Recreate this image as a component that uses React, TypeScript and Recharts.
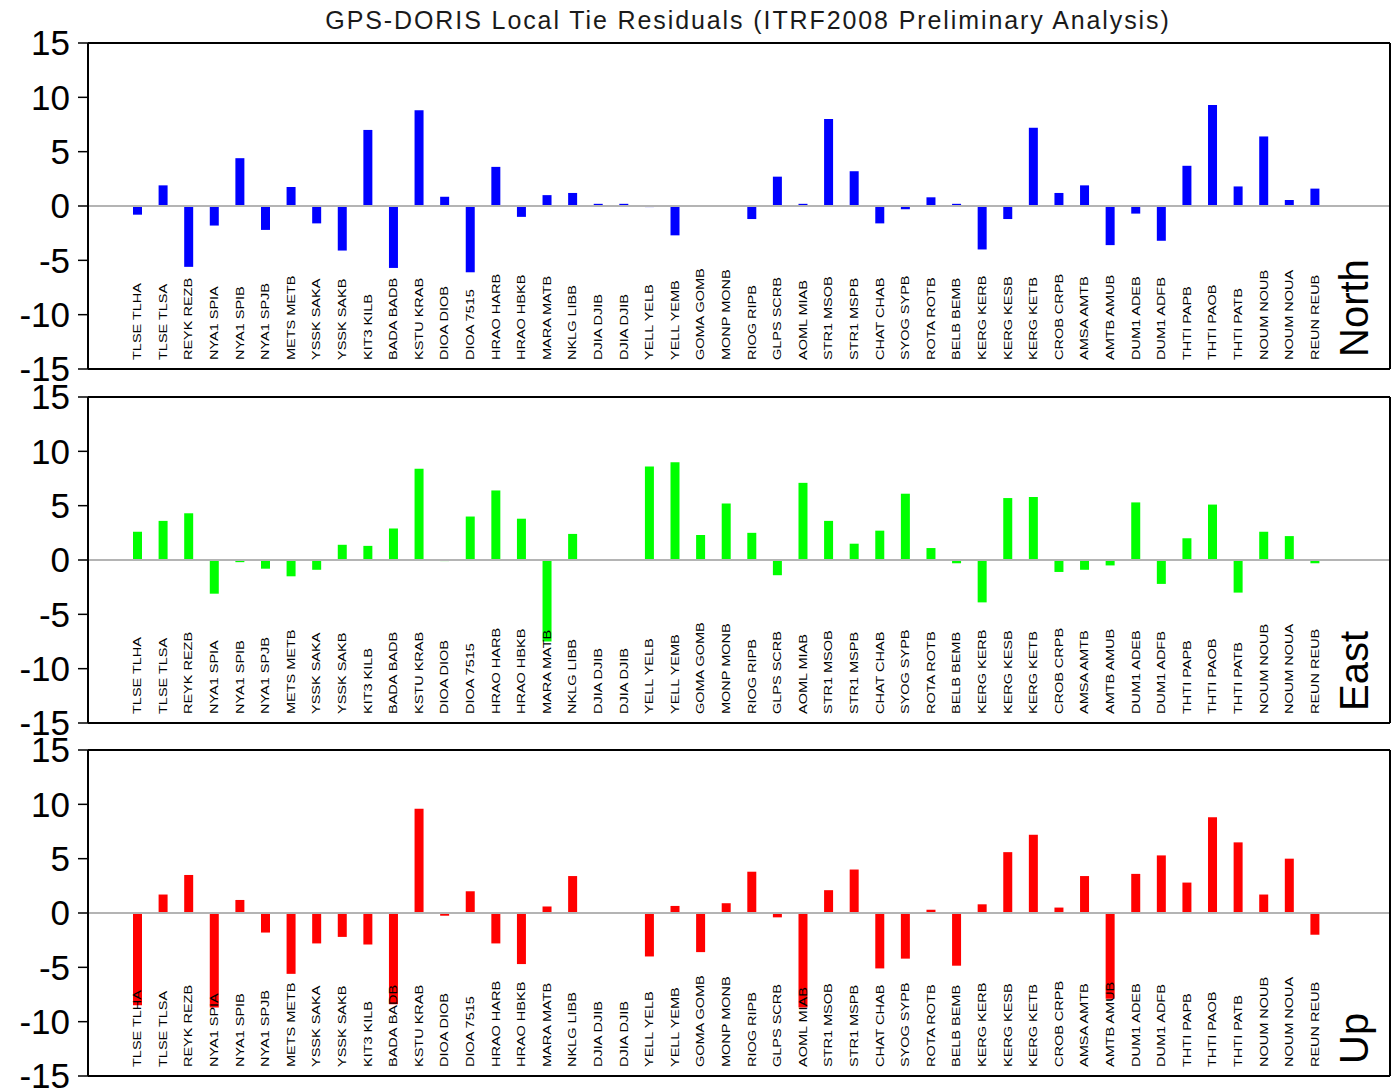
import { Bar, BarChart, Label, ReferenceLine, XAxis, YAxis } from "recharts";

const stations = [
  "TLSE TLHA", "TLSE TLSA", "REYK REZB", "NYA1 SPIA", "NYA1 SPIB", "NYA1 SPJB", "METS METB",
  "YSSK SAKA", "YSSK SAKB", "KIT3 KILB", "BADA BADB", "KSTU KRAB", "DIOA DIOB", "DIOA 7515",
  "HRAO HARB", "HRAO HBKB", "MARA MATB", "NKLG LIBB", "DJIA DJIB", "DJIA DJIB", "YELL YELB",
  "YELL YEMB", "GOMA GOMB", "MONP MONB", "RIOG RIPB", "GLPS SCRB", "AOML MIAB", "STR1 MSOB",
  "STR1 MSPB", "CHAT CHAB", "SYOG SYPB", "ROTA ROTB", "BELB BEMB", "KERG KERB", "KERG KESB",
  "KERG KETB", "CROB CRPB", "AMSA AMTB", "AMTB AMUB", "DUM1 ADEB", "DUM1 ADFB", "THTI PAPB",
  "THTI PAOB", "THTI PATB", "NOUM NOUB", "NOUM NOUA", "REUN REUB",
];

const north = [
  -0.8, 1.9, -5.6, -1.8, 4.4, -2.2, 1.75, -1.6, -4.1, 7.0, -5.7, 8.8, 0.85, -6.1, 3.6, -1.0,
  1.0, 1.2, 0.2, 0.2, -0.1, -2.7, 0, 0.05, -1.2, 2.7, 0.2, 8.0, 3.2, -1.6, -0.3, 0.8, 0.2,
  -4.0, -1.2, 7.2, 1.2, 1.9, -3.6, -0.7, -3.2, 3.7, 9.3, 1.8, 6.4, 0.55, 1.6,
];

const east = [
  2.6, 3.6, 4.3, -3.1, -0.2, -0.8, -1.5, -0.9, 1.4, 1.3, 2.9, 8.4, -0.1, 4.0, 6.4, 3.8, -7.5,
  2.4, 0, -0.05, 8.6, 9.0, 2.3, 5.2, 2.5, -1.4, 7.1, 3.6, 1.5, 2.7, 6.1, 1.1, -0.3, -3.9, 5.7,
  5.8, -1.1, -0.9, -0.5, 5.3, -2.2, 2.0, 5.1, -3.0, 2.6, 2.2, -0.3,
];

const up = [
  -8.5, 1.7, 3.5, -8.7, 1.2, -1.8, -5.6, -2.8, -2.2, -2.9, -8.4, 9.6, -0.25, 2.0, -2.8, -4.7,
  0.6, 3.4, -0.05, 0, -4.0, 0.65, -3.6, 0.9, 3.8, -0.4, -8.7, 2.1, 4.0, -5.1, -4.2, 0.3, -4.85,
  0.8, 5.6, 7.2, 0.5, 3.4, -7.9, 3.6, 5.3, 2.8, 8.8, 6.5, 1.7, 5.0, -2.0,
];

const yTicks = [-15, -10, -5, 0, 5, 10, 15];

const rows = stations.map((s, i) => ({ i, site: s, north: north[i], east: east[i], up: up[i] }));

const FONT = "'Liberation Sans', Arial, Helvetica, sans-serif";
const PLOT_H = 326;

function SiteTick(props: any) {
  const { x, y, payload } = props;
  return (
    <text
      transform={`translate(${x + 3.5},${y - 9}) rotate(-90) scale(1.45,1)`}
      fontSize={10}
      fontFamily={FONT}
      fill="#000"
      textAnchor="start"
    >
      {stations[payload.value]}
    </text>
  );
}

function Panel({ top, dataKey, color, name }: { top: number; dataKey: string; color: string; name: string }) {
  return (
    <div style={{ position: "absolute", left: 0, top: top - 20 }}>
      <BarChart width={1393} height={PLOT_H + 40} data={rows} margin={{ top: 20, right: 2, bottom: 19, left: 8 }}>
        <XAxis
          dataKey="i"
          type="category"
          interval={0}
          height={1}
          padding={{ left: 37, right: 62 }}
          tickLine={false}
          tickSize={0}
          tickMargin={0}
          axisLine={{ stroke: "#000", strokeWidth: 2 }}
          tick={<SiteTick />}
        />
        <YAxis
          domain={[-15, 15]}
          ticks={yTicks}
          width={80}
          interval={0}
          allowDataOverflow
          tickSize={10}
          tickMargin={8}
          tickLine={{ stroke: "#000", strokeWidth: 1.5 }}
          axisLine={{ stroke: "#000", strokeWidth: 2 }}
          tick={{ fontSize: 35, fill: "#000", fontFamily: FONT }}
        />
        <YAxis
          yAxisId="right"
          orientation="right"
          domain={[-15, 15]}
          width={1}
          tick={false}
          tickLine={false}
          axisLine={{ stroke: "#000", strokeWidth: 2 }}
        />
        <ReferenceLine y={0} stroke="#b4b4b4" strokeWidth={2} />
        <ReferenceLine y={15} stroke="#000" strokeWidth={2} />
        <Bar dataKey={dataKey} fill={color} barSize={9} isAnimationActive={false} />
        <ReferenceLine y={-15} stroke="#000" strokeWidth={2}>
          <Label
            content={(p: any) => {
              const vb = p.viewBox || {};
              const right = (vb.x ?? 88) + (vb.width ?? 1302);
              const bottom = vb.y ?? 346;
              return (
                <text
                  transform={`translate(${right - 22},${bottom - 12}) rotate(-90)`}
                  fontSize={40}
                  fontFamily={FONT}
                  fill="#000"
                  textAnchor="start"
                >
                  {name}
                </text>
              );
            }}
          />
        </ReferenceLine>
      </BarChart>
    </div>
  );
}

export default function App() {
  return (
    <div style={{ position: "absolute", left: 0, top: 0, width: 1393, height: 1090, overflow: "hidden", background: "#fff" }}>
      <div
        style={{
          position: "absolute",
          left: 88,
          width: 1320,
          top: 6,
          textAlign: "center",
          fontFamily: FONT,
          fontSize: 25,
          letterSpacing: "1.9px",
          color: "#1a1a1a",
          whiteSpace: "nowrap",
        }}
      >
        GPS-DORIS Local Tie Residuals (ITRF2008 Preliminary Analysis)
      </div>
      <Panel top={43} dataKey="north" color="#0000ff" name="North" />
      <Panel top={397} dataKey="east" color="#00ff00" name="East" />
      <Panel top={750} dataKey="up" color="#ff0000" name="Up" />
    </div>
  );
}
